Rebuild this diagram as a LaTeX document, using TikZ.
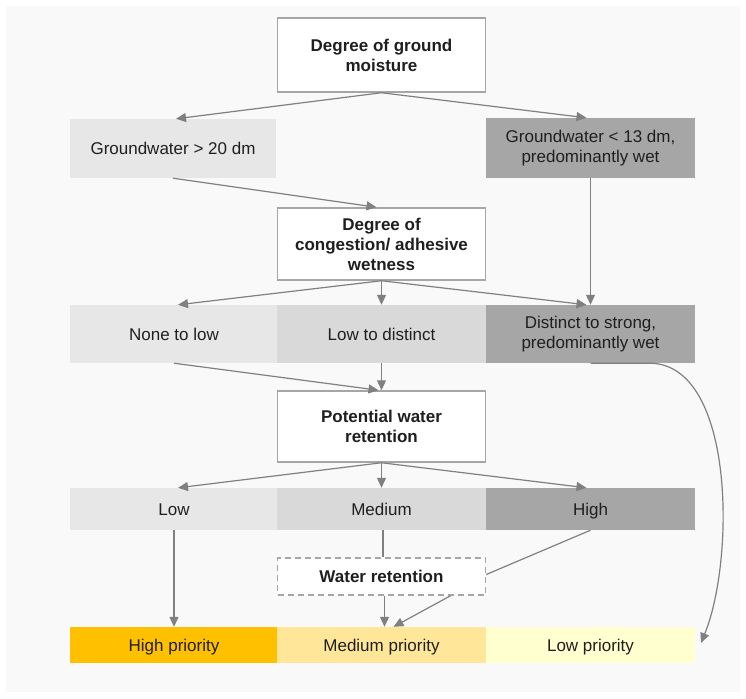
\documentclass[tikz,border=0pt]{standalone}
\usepackage{fontspec}
\setmainfont{Liberation Sans}
\usetikzlibrary{arrows.meta}
\definecolor{bgc}{HTML}{F9F9F9}
\definecolor{bordc}{HTML}{A6A6A6}
\definecolor{arrc}{HTML}{808080}
\definecolor{txtc}{HTML}{1F1F1F}
\definecolor{lightc}{HTML}{E7E7E7}
\definecolor{midc}{HTML}{D9D9D9}
\definecolor{darkc}{HTML}{A6A6A6}
\definecolor{hip}{HTML}{FFC000}
\definecolor{mep}{HTML}{FFE699}
\definecolor{lop}{HTML}{FFFFD0}
\tikzset{
  wbox/.style={draw=bordc, line width=1.5pt, fill=white, minimum width=208pt,
    inner sep=0pt, align=center, text=txtc, font=\fontsize{17}{20}\selectfont\bfseries},
  cell/.style={minimum width=208.5pt, inner sep=0pt, align=center, text=txtc,
    font=\fontsize{17}{20}\selectfont},
  one/.style={text height=12.2pt, text depth=0pt},
  arr/.style={draw=arrc, line width=1.2pt, -{Triangle[length=10pt,width=9pt]}},
  ln/.style={draw=arrc, line width=1.2pt}
}
\begin{document}
\begin{tikzpicture}[x=1pt,y=-1pt]
\useasboundingbox (0,0) rectangle (746,698);
\fill[white] (0,0) rectangle (746,698);
\fill[bgc] (6,6) rectangle (740,692);

% level 1
\node[wbox, minimum height=74pt] (top) at (381.5,55) {Degree of ground\\moisture};
\node[cell, one, fill=lightc, minimum height=59pt, minimum width=206pt] (gw1) at (173,148.5) {Groundwater > 20 dm};
\node[cell, fill=darkc, minimum height=60pt] (gw2) at (590.5,148) {Groundwater < 13 dm,\\predominantly wet};

% level 2
\node[wbox, minimum height=72pt] (cong) at (381.5,244) {Degree of\\congestion/ adhesive\\wetness};
\node[cell, one, fill=lightc, minimum height=58pt] (ra) at (174,334) {None to low};
\node[cell, one, fill=midc, minimum height=58pt] (rb) at (381.5,334) {Low to distinct};
\node[cell, fill=darkc, minimum height=58pt] (rc) at (590.5,334) {Distinct to strong,\\predominantly wet};

% level 3
\node[wbox, minimum height=71pt] (pot) at (381.5,426.5) {Potential water\\retention};
\node[cell, one, fill=lightc, minimum height=42pt] (la) at (174,509) {Low};
\node[cell, one, fill=midc, minimum height=42pt] (lb) at (381.5,509) {Medium};
\node[cell, one, fill=darkc, minimum height=42pt] (lc) at (590.5,509) {High};

% water retention
\node[wbox, one, fill=white, dash pattern=on 6pt off 4pt, minimum height=37pt] (wr) at (381.5,576.5) {Water retention};

% priorities
\node[cell, one, fill=hip, minimum height=36pt] (pa) at (174,645) {High priority};
\node[cell, one, fill=mep, minimum height=36pt] (pb) at (381.5,645) {Medium priority};
\node[cell, one, fill=lop, minimum height=36pt] (pc) at (590.5,645) {Low priority};

% connectors
\draw[arr] (top.south) -- ([xshift=3pt]gw1.north);
\draw[arr] (top.south) -- ([xshift=-4pt]gw2.north);
\draw[arr] (gw1.south) -- ([xshift=-5pt]cong.north);
\draw[arr] (gw2.south) -- (rc.north);

\draw[arr] (cong.south) -- ([xshift=4pt]ra.north);
\draw[arr] (cong.south) -- (rb.north);
\draw[arr] (cong.south) -- ([xshift=-4pt]rc.north);

\draw[arr] (ra.south) -- ([xshift=-3pt]pot.north);
\draw[arr] (rb.south) -- (pot.north);

\draw[arr] (rc.south) -- ([xshift=60pt]rc.south) .. controls (735,365) and (735,560) .. ([xshift=6pt,yshift=2pt]pc.east);

\draw[arr] (pot.south) -- ([xshift=4pt]la.north);
\draw[arr] (pot.south) -- (lb.north);
\draw[arr] (pot.south) -- ([xshift=-4pt]lc.north);

\draw[arr] (la.south) -- (pa.north);
\draw[ln] ([xshift=1.5pt]lb.south) -- ([xshift=1.5pt]wr.north);
\draw[ln] (lc.south) -- ([yshift=2pt]wr.east);
\draw[arr] ([xshift=3pt]wr.south) -- ([xshift=3pt]pb.north);
\draw[arr] ([xshift=69pt]wr.south) -- ([xshift=12pt]pb.north);
\end{tikzpicture}
\end{document}
